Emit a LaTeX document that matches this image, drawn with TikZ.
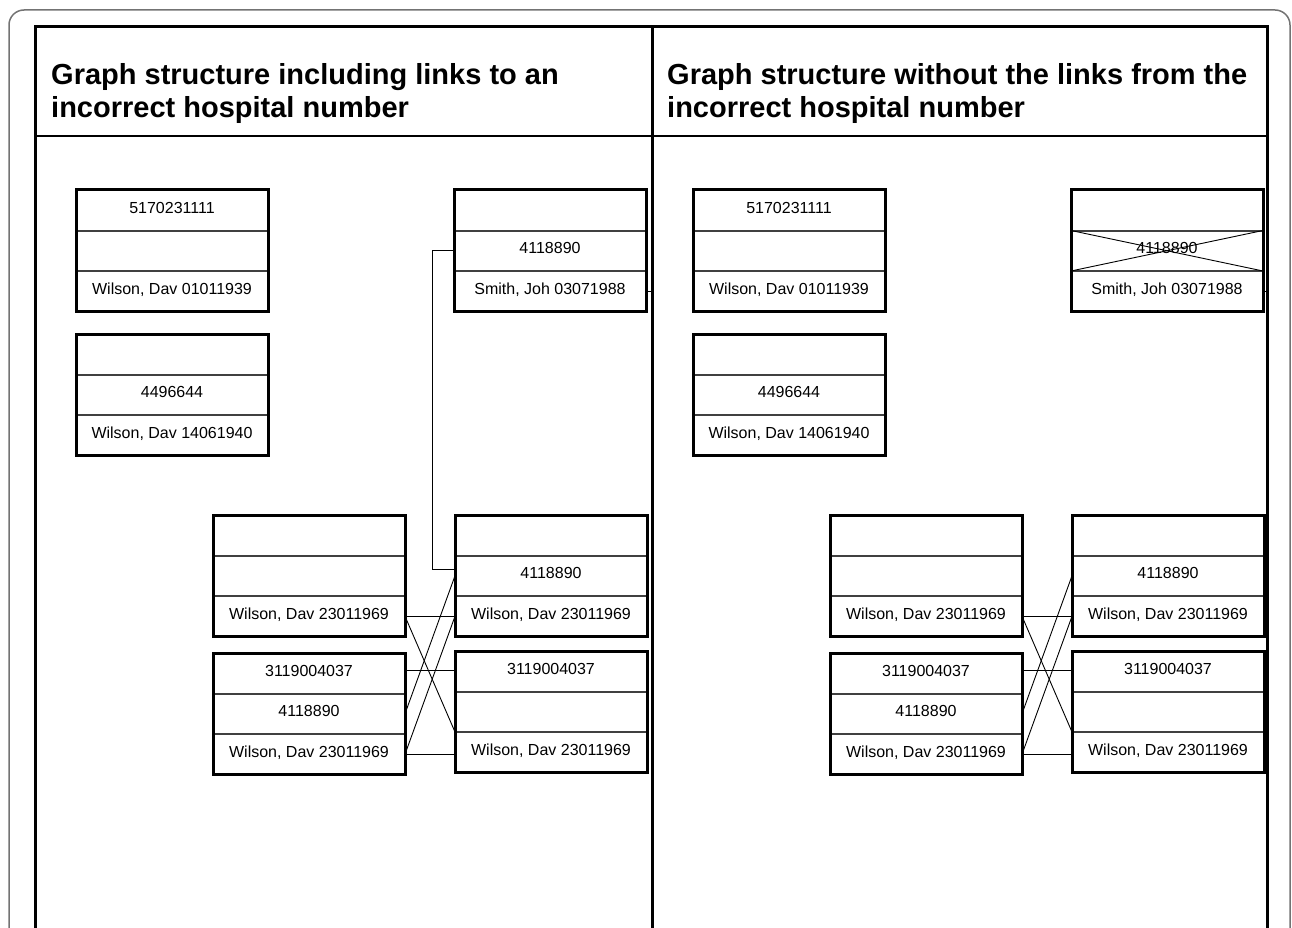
\documentclass[tikz,border=0pt]{standalone}
\usepackage{fontspec}
\setmainfont{Liberation Sans}
\tikzset{
  rowcell/.style={draw=black!75, line width=1pt, minimum width=191pt, minimum height=39.5pt,
    inner sep=0pt, text height=11.5pt, text depth=5.5pt, font=\fontsize{16}{18}\selectfont},
  boxborder/.style={draw=black, line width=3pt},
  link/.style={draw=black, line width=0.9pt},
  hdr/.style={anchor=base west, inner sep=0pt, font=\fontsize{29}{33}\selectfont\bfseries},
  tableline/.style={draw=black, line width=3pt},
  outerframe/.style={draw=black!55, line width=1.5pt, rounded corners=15pt}
}
\newcommand{\recbox}[6]{%
  \node[rowcell, anchor=north west] (#1a) at (#2,#3) {#4};
  \node[rowcell, anchor=north] (#1b) at (#1a.south) {#5};
  \node[rowcell, anchor=north] (#1c) at (#1b.south) {#6};
  \draw[boxborder] (#1a.north west) rectangle (#1c.south east);
}
\begin{document}
\begin{tikzpicture}[x=1pt,y=-1pt]
\useasboundingbox (0,0) rectangle (1292,928);
\clip (0,0) rectangle (1292,928);
% outer frame
\draw[outerframe] (9,10) rectangle (1290,980);
% table
\coordinate (tl) at (35,27);
\coordinate (div) at (652,27);
\coordinate (tr) at (1267,27);
\draw[tableline] (35,980) -- (tl) -- (tr) -- (1267,980);
\draw[tableline] (div) -- (652,980);
\draw[draw=black, line width=2.5pt] (35,136) -- (1267,136);
% headers
\node[hdr] (h1a) at (51,85) {Graph structure including links to an};
\node[hdr] (h1b) at (51,118) {incorrect hospital number};
\node[hdr] (h2a) at (667,85) {Graph structure without the links from the};
\node[hdr] (h2b) at (667,118) {incorrect hospital number};
% ---------- left panel ----------
\recbox{A}{76}{190}{5170231111}{}{Wilson, Dav 01011939}
\recbox{B}{76}{334}{}{4496644}{Wilson, Dav 14061940}
\recbox{S}{454}{190}{}{4118890}{Smith, Joh 03071988}
\recbox{La}{213}{515}{}{}{Wilson, Dav 23011969}
\recbox{Lb}{213}{653}{3119004037}{4118890}{Wilson, Dav 23011969}
\recbox{Ra}{455}{515}{}{4118890}{Wilson, Dav 23011969}
\recbox{Rb}{455}{651}{3119004037}{}{Wilson, Dav 23011969}
\draw[link] (Sb.west) -- ++(-22,0) |- ([yshift=6pt]Rab.west);
\draw[link] (Sc.east) -- (Sc.east -| div);
\draw[link] (Lac.east) -- (Rac.west);
\draw[link] (Lac.east) -- (Rbc.north west);
\draw[link] ([yshift=3pt]Lba.east) -- ([yshift=3pt]Lba.east -| Rba.west);
\draw[link] (Lbb.east) -- (Rab.west);
\draw[link] (Lbc.east) -- (Rac.west);
\draw[link] (Lbc.east) -- (Lbc.east -| Rbc.west);
% ---------- right panel ----------
\recbox{AA}{693}{190}{5170231111}{}{Wilson, Dav 01011939}
\recbox{BB}{693}{334}{}{4496644}{Wilson, Dav 14061940}
\recbox{SS}{1071}{190}{}{4118890}{Smith, Joh 03071988}
\recbox{LLa}{830}{515}{}{}{Wilson, Dav 23011969}
\recbox{LLb}{830}{653}{3119004037}{4118890}{Wilson, Dav 23011969}
\recbox{RRa}{1072}{515}{}{4118890}{Wilson, Dav 23011969}
\recbox{RRb}{1072}{651}{3119004037}{}{Wilson, Dav 23011969}
\draw[link] (SSb.north west) -- (SSb.south east);
\draw[link] (SSb.south west) -- (SSb.north east);
\draw[link] (SSc.east) -- (SSc.east -| tr);
\draw[link] (LLac.east) -- (RRac.west);
\draw[link] (LLac.east) -- (RRbc.north west);
\draw[link] ([yshift=3pt]LLba.east) -- ([yshift=3pt]LLba.east -| RRba.west);
\draw[link] (LLbb.east) -- (RRab.west);
\draw[link] (LLbc.east) -- (RRac.west);
\draw[link] (LLbc.east) -- (LLbc.east -| RRbc.west);
\end{tikzpicture}
\end{document}
